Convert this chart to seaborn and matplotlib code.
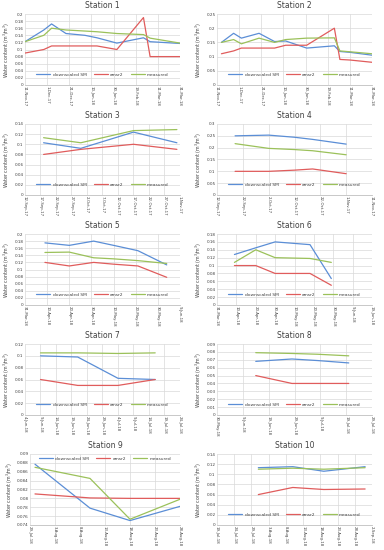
"""Downscaled SM vs AMSR2 vs measured soil moisture, ten stations."""
import matplotlib
matplotlib.use("Agg")
import matplotlib.pyplot as plt
import matplotlib.ticker as mticker
import matplotlib.dates as mdates
import numpy as np
import pandas as pd
import seaborn as sns

SERIES = ["downscaled SM", "amsr2", "measured"]
COLORS = {"downscaled SM": "#5B8ED6", "amsr2": "#E05C5C", "measured": "#9BC15A"}

# ---- station data ----
s1_dates = ["2017-11-11", "2017-11-28", "2017-12-05", "2017-12-18", "2018-01-04",
            "2018-01-15", "2018-02-02", "2018-02-26", "2018-03-04", "2018-03-31"]
s1_down = [0.122, 0.155, 0.172, 0.145, 0.140, 0.133, 0.118, 0.133, 0.122, 0.117]
s1_amsr = [0.090, 0.100, 0.110, 0.110, 0.110, 0.110, 0.100, 0.190, 0.080, 0.080]
s1_meas = [0.122, 0.140, 0.160, 0.155, 0.152, 0.150, 0.145, 0.142, 0.132, 0.118]

s2_dates = ["2017-11-15", "2017-11-26", "2017-12-03", "2017-12-19", "2018-01-02", "2018-01-12",
            "2018-01-31", "2018-02-25", "2018-03-02", "2018-03-11", "2018-03-31"]
s2_down = [0.150, 0.182, 0.165, 0.182, 0.153, 0.155, 0.130, 0.138, 0.118, 0.115, 0.105]
s2_amsr = [0.110, 0.120, 0.130, 0.130, 0.130, 0.140, 0.140, 0.200, 0.090, 0.088, 0.080]
s2_meas = [0.150, 0.160, 0.145, 0.165, 0.150, 0.160, 0.165, 0.166, 0.120, 0.117, 0.110]

s3_dates = ["2017-09-18", "2017-09-30", "2017-10-17", "2017-10-31"]
s3_down = [0.103, 0.092, 0.124, 0.103]
s3_amsr = [0.080, 0.090, 0.100, 0.090]
s3_meas = [0.113, 0.103, 0.127, 0.129]

s4_dates = ["2017-09-19", "2017-10-02", "2017-10-12", "2017-10-19", "2017-11-01"]
s4_down = [0.250, 0.253, 0.244, 0.235, 0.215]
s4_amsr = [0.100, 0.100, 0.105, 0.110, 0.090]
s4_meas = [0.217, 0.197, 0.192, 0.187, 0.170]

s5_dates = ["2018-04-09", "2018-04-20", "2018-05-01", "2018-05-10", "2018-05-21", "2018-06-03"]
s5_down = [0.175, 0.168, 0.180, 0.168, 0.153, 0.113]
s5_amsr = [0.120, 0.110, 0.120, 0.115, 0.110, 0.078]
s5_meas = [0.148, 0.149, 0.133, 0.130, 0.125, 0.117]

s6_dates = ["2018-04-09", "2018-04-20", "2018-04-30", "2018-05-18", "2018-05-29"]
s6_down = [0.128, 0.145, 0.160, 0.153, 0.067]
s6_amsr = [0.100, 0.100, 0.080, 0.080, 0.050]
s6_meas = [0.108, 0.140, 0.120, 0.118, 0.108]

s7_dates = ["2018-06-09", "2018-06-21", "2018-07-04", "2018-07-16"]
s7_down = [0.100, 0.098, 0.062, 0.060]
s7_amsr = [0.060, 0.050, 0.050, 0.060]
s7_meas = [0.105, 0.105, 0.104, 0.105]

s8_dates = ["2018-06-14", "2018-06-28", "2018-07-08", "2018-07-20"]
s8_down = [0.068, 0.071, 0.069, 0.066]
s8_amsr = [0.050, 0.040, 0.040, 0.040]
s8_meas = [0.079, 0.078, 0.077, 0.075]

s9_dates = ["2018-07-30", "2018-08-10", "2018-08-18", "2018-08-28"]
s9_down = [0.0877, 0.0778, 0.0750, 0.0782]
s9_amsr = [0.0810, 0.0801, 0.0800, 0.0800]
s9_meas = [0.0870, 0.0845, 0.0753, 0.0798]

s10_dates = ["2018-07-31", "2018-08-10", "2018-08-19", "2018-08-31"]
s10_down = [0.113, 0.115, 0.106, 0.115]
s10_amsr = [0.060, 0.074, 0.070, 0.071]
s10_meas = [0.110, 0.112, 0.110, 0.113]

# axis setup per station: (x start, x end, tick step days, ymin, ymax, ystep, legend at top)
stations = [
    ("Station 1", s1_dates, s1_down, s1_amsr, s1_meas, "2017-11-11", "2018-03-31", 20, 0, 0.2, 0.02, False),
    ("Station 2", s2_dates, s2_down, s2_amsr, s2_meas, "2017-11-11", "2018-03-31", 20, 0, 0.25, 0.05, False),
    ("Station 3", s3_dates, s3_down, s3_amsr, s3_meas, "2017-09-12", "2017-11-01", 5, 0, 0.14, 0.02, False),
    ("Station 4", s4_dates, s4_down, s4_amsr, s4_meas, "2017-09-12", "2017-11-11", 10, 0, 0.3, 0.05, False),
    ("Station 5", s5_dates, s5_down, s5_amsr, s5_meas, "2018-03-31", "2018-06-09", 10, 0, 0.2, 0.02, False),
    ("Station 6", s6_dates, s6_down, s6_amsr, s6_meas, "2018-03-31", "2018-06-19", 10, 0, 0.18, 0.02, False),
    ("Station 7", s7_dates, s7_down, s7_amsr, s7_meas, "2018-06-04", "2018-07-24", 5, 0, 0.12, 0.02, False),
    ("Station 8", s8_dates, s8_down, s8_amsr, s8_meas, "2018-05-30", "2018-07-29", 10, 0, 0.09, 0.01, False),
    ("Station 9", s9_dates, s9_down, s9_amsr, s9_meas, "2018-07-29", "2018-08-28", 5, 0.074, 0.09, 0.002, True),
    ("Station 10", s10_dates, s10_down, s10_amsr, s10_meas, "2018-07-19", "2018-09-02", 5, 0, 0.14, 0.02, False),
]

sns.set_theme(style="whitegrid")
plt.rcParams["font.family"] = ["DejaVu Sans"]

W, H = 384, 550
fig = plt.figure(figsize=(W / 100, H / 100), dpi=100)


def date_label(x, pos=None):
    d = mdates.num2date(x)
    return f"{d.day}-{d.strftime('%b-%y')}"


for i, (name, dates, down, amsr, meas, x0, x1, step, y0, y1, ys, top_legend) in enumerate(stations):
    row, col = divmod(i, 2)
    pad = 30 if top_legend else 25
    left = (pad + col * 192) / W
    bottom = 1 - (row * 110 + 85) / H
    ax = fig.add_axes([left, bottom, (180 - pad) / W, 71 / H])

    df = pd.DataFrame({
        "date": pd.to_datetime(dates * 3),
        "value": down + amsr + meas,
        "series": [s for s in SERIES for _ in dates],
    })
    sns.lineplot(data=df, x="date", y="value", hue="series", hue_order=SERIES,
                 palette=COLORS, linewidth=0.9, ax=ax, legend=True)

    ticks = pd.date_range(x0, x1, freq=f"{step}D")
    ax.set_xlim(pd.Timestamp(x0), pd.Timestamp(x1))
    ax.set_xticks(ticks)
    ax.xaxis.set_major_formatter(mticker.FuncFormatter(date_label))
    ax.set_ylim(y0, y1)
    ax.set_yticks(np.arange(y0, y1 + ys / 2, ys))
    ax.yaxis.set_major_formatter(mticker.FuncFormatter(lambda v, p: f"{round(v, 4):g}"))
    ax.tick_params(axis="x", labelsize=2.8, rotation=-90, pad=1, length=0, labelcolor="#404040")
    ax.tick_params(axis="y", labelsize=3.0, pad=1, length=0, labelcolor="#404040")
    ax.grid(True, color="#d9d9d9", linewidth=0.5)
    for side in ["top", "right", "left"]:
        ax.spines[side].set_visible(False)
    ax.spines["bottom"].set_color("#bfbfbf")
    ax.spines["bottom"].set_linewidth(0.6)

    ax.set_xlabel("")
    ax.set_ylabel("Water content (m$^3$/m$^3$)", fontsize=3.4, labelpad=1.5, color="#404040")
    ax.set_title(name, fontsize=5.5, pad=4, color="#404040")

    anchor = ("upper center", (0.5, 1.02)) if top_legend else ("lower center", (0.5, 0.06))
    ax.legend(loc=anchor[0], bbox_to_anchor=anchor[1], ncol=3, frameon=False,
              fontsize=3.2, handlelength=3.2, handletextpad=0.5, columnspacing=1.6,
              labelcolor="#404040")

fig.savefig("out.png", dpi=100, facecolor="white")
plt.close(fig)
